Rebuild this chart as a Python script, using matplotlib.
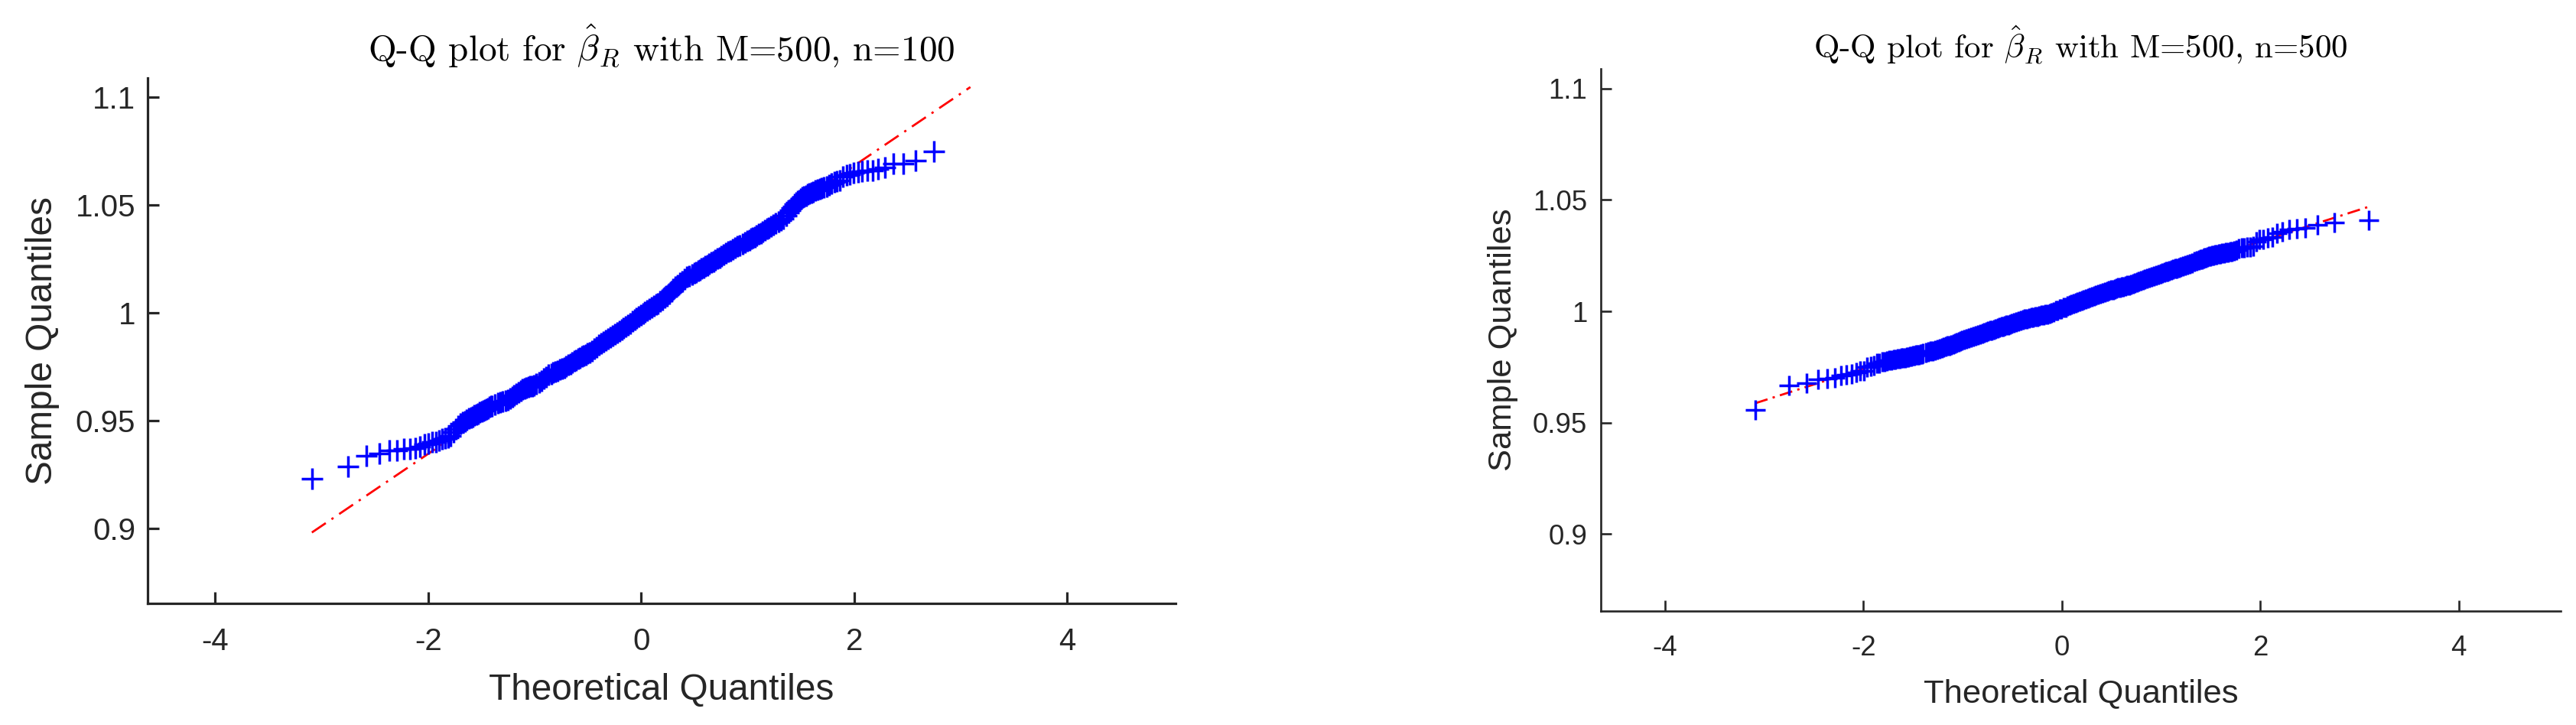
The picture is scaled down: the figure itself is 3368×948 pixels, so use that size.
import statistics
import matplotlib
matplotlib.use('Agg')
import matplotlib.pyplot as plt

plt.rcParams['font.family'] = ['Liberation Sans', 'DejaVu Sans']
plt.rcParams['mathtext.fontset'] = 'cm'
plt.rcParams['lines.scale_dashes'] = False

N = 500  # sample size of each Q-Q plot (M=500)
INK = '#262626'

# positions in the sorted sample that are drawn (every point in the tails,
# a thinner selection inside the dense middle band)
mid_ranks = (list(range(43, 80, 2)) + list(range(82, 155, 3)) +
             list(range(158, 347, 4)) + list(range(349, 422, 3)) +
             list(range(423, 460, 2)))
left_ranks = list(range(1, 42)) + mid_ranks + list(range(460, 500))
right_ranks = list(range(1, 42)) + mid_ranks + list(range(460, 501))

# sample quantiles, one per rank above
left_values = [
    # ranks 1-41
    0.9231, 0.9289, 0.9337, 0.9348, 0.9362, 0.9362, 0.9368, 0.9370, 0.9374,
    0.9382, 0.9390, 0.9395, 0.9401, 0.9403, 0.9407, 0.9414, 0.9418, 0.9422,
    0.9430, 0.9448, 0.9463, 0.9476, 0.9486, 0.9492, 0.9498, 0.9504, 0.9510,
    0.9515, 0.9520, 0.9525, 0.9530, 0.9534, 0.9539, 0.9544, 0.9548, 0.9552,
    0.9555, 0.9559, 0.9563, 0.9567, 0.9570,
    # ranks 43-79 step 2
    0.9577, 0.9582, 0.9586, 0.9590, 0.9594, 0.9598, 0.9603, 0.9610, 0.9617,
    0.9624, 0.9631, 0.9638, 0.9645, 0.9649, 0.9652, 0.9656, 0.9659, 0.9662,
    0.9665,
    # ranks 82-154 step 3
    0.9670, 0.9678, 0.9687, 0.9695, 0.9704, 0.9712, 0.9719, 0.9723, 0.9728,
    0.9733, 0.9737, 0.9742, 0.9747, 0.9753, 0.9759, 0.9765, 0.9771, 0.9777,
    0.9782, 0.9788, 0.9793, 0.9798, 0.9802, 0.9807, 0.9812,
    # ranks 158-346 step 4
    0.9818, 0.9825, 0.9834, 0.9842, 0.9851, 0.9859, 0.9867, 0.9875, 0.9882,
    0.9889, 0.9896, 0.9903, 0.9909, 0.9916, 0.9923, 0.9931, 0.9938, 0.9946,
    0.9953, 0.9961, 0.9968, 0.9976, 0.9983, 0.9990, 0.9997, 1.0005, 1.0011,
    1.0018, 1.0025, 1.0032, 1.0039, 1.0045, 1.0053, 1.0062, 1.0071, 1.0080,
    1.0090, 1.0101, 1.0111, 1.0120, 1.0130, 1.0139, 1.0148, 1.0157, 1.0166,
    1.0173, 1.0179, 1.0186,
    # ranks 349-421 step 3
    1.0190, 1.0195, 1.0200, 1.0205, 1.0210, 1.0216, 1.0222, 1.0228, 1.0234,
    1.0239, 1.0245, 1.0252, 1.0258, 1.0265, 1.0271, 1.0278, 1.0284, 1.0290,
    1.0296, 1.0302, 1.0308, 1.0314, 1.0320, 1.0327, 1.0334,
    # ranks 423-459 step 2
    1.0339, 1.0344, 1.0349, 1.0353, 1.0359, 1.0365, 1.0371, 1.0377, 1.0384,
    1.0390, 1.0396, 1.0403, 1.0409, 1.0416, 1.0423, 1.0429, 1.0436, 1.0450,
    1.0466,
    # ranks 460-499 (500 lies above the axis limit)
    1.0476, 1.0486, 1.0495, 1.0505, 1.0513, 1.0519, 1.0524, 1.0530, 1.0535,
    1.0540, 1.0545, 1.0550, 1.0555, 1.0559, 1.0563, 1.0567, 1.0571, 1.0574,
    1.0578, 1.0582, 1.0588, 1.0595, 1.0601, 1.0606, 1.0610, 1.0614, 1.0634,
    1.0641, 1.0644, 1.0650, 1.0652, 1.0658, 1.0662, 1.0662, 1.0667, 1.0674,
    1.0694, 1.0694, 1.0706, 1.0751,
]
left_line_y = [0.8982, 1.1048]

right_values = [
    # ranks 1-41
    0.9556, 0.9667, 0.9676, 0.9694, 0.9697, 0.9703, 0.9713, 0.9714, 0.9718,
    0.9725, 0.9731, 0.9733, 0.9749, 0.9752, 0.9755, 0.9766, 0.9768, 0.9772,
    0.9775, 0.9778, 0.9780, 0.9781, 0.9783, 0.9785, 0.9786, 0.9788, 0.9789,
    0.9791, 0.9792, 0.9794, 0.9795, 0.9797, 0.9799, 0.9800, 0.9802, 0.9803,
    0.9805, 0.9806, 0.9808, 0.9809, 0.9811,
    # ranks 43-79 step 2
    0.9814, 0.9817, 0.9820, 0.9823, 0.9826, 0.9829, 0.9832, 0.9835, 0.9838,
    0.9841, 0.9844, 0.9847, 0.9850, 0.9853, 0.9857, 0.9860, 0.9863, 0.9866,
    0.9869,
    # ranks 82-154 step 3
    0.9874, 0.9878, 0.9881, 0.9884, 0.9887, 0.9890, 0.9894, 0.9897, 0.9900,
    0.9903, 0.9906, 0.9910, 0.9913, 0.9916, 0.9919, 0.9922, 0.9924, 0.9927,
    0.9930, 0.9932, 0.9935, 0.9938, 0.9940, 0.9943, 0.9946,
    # ranks 158-346 step 4
    0.9950, 0.9953, 0.9957, 0.9960, 0.9962, 0.9965, 0.9967, 0.9969, 0.9971,
    0.9973, 0.9975, 0.9977, 0.9980, 0.9982, 0.9984, 0.9986, 0.9988, 0.9991,
    0.9995, 0.9998, 1.0002, 1.0005, 1.0009, 1.0012, 1.0016, 1.0019, 1.0023,
    1.0027, 1.0030, 1.0034, 1.0037, 1.0041, 1.0044, 1.0048, 1.0051, 1.0055,
    1.0058, 1.0062, 1.0065, 1.0069, 1.0073, 1.0076, 1.0080, 1.0083, 1.0087,
    1.0090, 1.0093, 1.0096,
    # ranks 349-421 step 3
    1.0098, 1.0100, 1.0102, 1.0105, 1.0107, 1.0109, 1.0111, 1.0114, 1.0116,
    1.0118, 1.0120, 1.0124, 1.0127, 1.0131, 1.0134, 1.0138, 1.0141, 1.0145,
    1.0148, 1.0152, 1.0155, 1.0159, 1.0162, 1.0166, 1.0170,
    # ranks 423-459 step 2
    1.0172, 1.0175, 1.0178, 1.0180, 1.0183, 1.0186, 1.0188, 1.0191, 1.0194,
    1.0197, 1.0199, 1.0202, 1.0205, 1.0209, 1.0213, 1.0218, 1.0222, 1.0226,
    1.0231,
    # ranks 460-500
    1.0233, 1.0235, 1.0237, 1.0239, 1.0241, 1.0244, 1.0246, 1.0248, 1.0250,
    1.0252, 1.0254, 1.0255, 1.0257, 1.0259, 1.0260, 1.0262, 1.0264, 1.0266,
    1.0267, 1.0269, 1.0271, 1.0276, 1.0282, 1.0284, 1.0284, 1.0288, 1.0288,
    1.0293, 1.0312, 1.0322, 1.0322, 1.0329, 1.0332, 1.0349, 1.0356, 1.0369,
    1.0370, 1.0374, 1.0387, 1.0398, 1.0408,
]
right_line_y = [0.9587, 1.0469]

x_ticks = [-4, -2, 0, 2, 4]
x_labels = ['-4', '-2', '0', '2', '4']
y_ticks = [0.9, 0.95, 1.0, 1.05, 1.1]
y_labels = ['0.9', '0.95', '1', '1.05', '1.1']
titles = [r'Q-Q plot for $\hat{\beta}_R$ with M=500, n=100',
          r'Q-Q plot for $\hat{\beta}_R$ with M=500, n=500']

norm = statistics.NormalDist()


def theoretical(ranks):
    return [norm.inv_cdf((r - 0.5) / N) for r in ranks]


fig = plt.figure(figsize=(33.68, 9.48), dpi=100)

panels = [
    dict(rect=[0.0573, 0.1677, 0.3991, 0.7244], xlim=(-4.632, 5.017),
         ranks=left_ranks, values=left_values, line_y=left_line_y,
         title=titles[0], scale=1.0, spine=2.3, dashes=(15.8, 6.5, 2.2, 6.5),
         ypad=11.5, xlab_y=-0.1325, title_pad=16.5),
    dict(rect=[0.6214, 0.1569, 0.3727, 0.7482], xlim=(-4.647, 5.03),
         ranks=right_ranks, values=right_values, line_y=right_line_y,
         title=titles[1], scale=0.91, spine=1.9, dashes=(12.2, 5.0, 2.2, 5.0),
         ypad=12.8, xlab_y=-0.1236, title_pad=10.0),
]

for p in panels:
    ax = fig.add_axes(p['rect'])
    s = p['scale']
    tx = theoretical(p['ranks'])
    ends = theoretical([1, N])

    # reference line first, markers drawn over it
    ax.plot(ends, p['line_y'], color='#ff0000', linewidth=2.0,
            linestyle=(0, p['dashes']), zorder=2)
    ax.plot(tx, p['values'], linestyle='none', marker='+', color='#0000ff',
            markersize=20.5 * s, markeredgewidth=2.5, zorder=3)

    ax.set_xlim(*p['xlim'])
    ax.set_ylim(0.8653, 1.1089)
    ax.set_xticks(x_ticks)
    ax.set_xticklabels(x_labels)
    ax.set_yticks(y_ticks)
    ax.set_yticklabels(y_labels)

    for side in ('top', 'right'):
        ax.spines[side].set_visible(False)
    for side in ('left', 'bottom'):
        ax.spines[side].set_linewidth(p['spine'])
        ax.spines[side].set_color(INK)

    ax.tick_params(axis='both', direction='in', length=11 * s,
                   width=p['spine'], colors=INK, labelsize=29 * s)
    ax.tick_params(axis='x', pad=22)
    ax.tick_params(axis='y', pad=p['ypad'])

    ax.set_xlabel('Theoretical Quantiles', fontsize=34.4 * s, color=INK)
    ax.set_ylabel('Sample Quantiles', fontsize=34.4 * s, color=INK)
    ax.xaxis.set_label_coords(0.5, p['xlab_y'])
    ax.yaxis.set_label_coords(-0.0857, 0.5)

    ax.set_title(p['title'], fontsize=34 * s, family='cmr10',
                 pad=p['title_pad'], color='black')

fig.savefig('out.png', dpi=100)
